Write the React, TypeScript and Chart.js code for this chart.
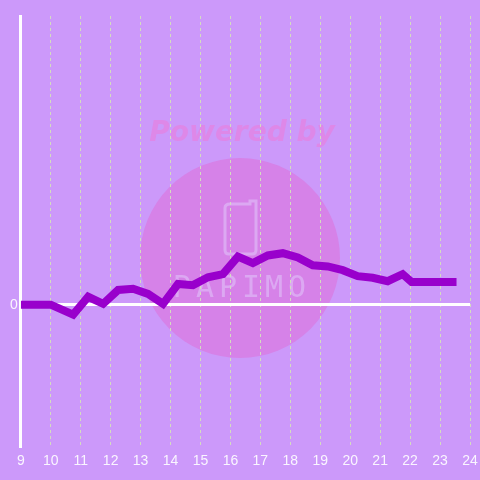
import React, { useEffect, useRef } from "react";
import { Chart, registerables } from "chart.js";

Chart.register(...registerables);

const hours = [9, 10, 10.75, 11.25, 11.75, 12.25, 12.75, 13.25, 13.75, 14.25, 14.75, 15.25, 15.75, 16.25, 16.75, 17.25, 17.75, 18.25, 18.75, 19.25, 19.75, 20.25, 20.75, 21.25, 21.75, 22.05, 23.55];
const values = [0, 0, -3.5, 2.8, 0.3, 5.2, 5.6, 3.8, 0.3, 7.3, 6.9, 9.7, 10.8, 17, 14.7, 17.4, 18.2, 16.7, 13.9, 13.5, 12.2, 10.1, 9.5, 8.3, 10.8, 8, 8];
const xMin = 9;
const xMax = 24;
const yMin = -50;
const yMax = 102;
const yTicksShown = [0];

const BG = "#cc99fa";

const watermark = {
  id: "watermark",
  beforeDraw(chart: any) {
    const ctx = chart.ctx;
    ctx.save();
    ctx.fillStyle = BG;
    ctx.fillRect(0, 0, chart.width, chart.height);
    ctx.fillStyle = "#d682e8";
    ctx.beginPath();
    ctx.arc(240, 258, 100, 0, Math.PI * 2);
    ctx.fill();
    ctx.fillStyle = "#de88e8";
    ctx.font = "italic bold 28px 'DejaVu Sans', sans-serif";
    ctx.textAlign = "center";
    ctx.textBaseline = "middle";
    ctx.fillText("Powered by", 242, 134);
    ctx.strokeStyle = "#dca8f2";
    ctx.lineWidth = 3;
    ctx.beginPath();
    ctx.moveTo(230, 204);
    ctx.lineTo(250, 204);
    ctx.lineTo(250, 201);
    ctx.lineTo(256, 201);
    ctx.lineTo(256, 250);
    ctx.quadraticCurveTo(256, 254, 252, 254);
    ctx.lineTo(229, 254);
    ctx.quadraticCurveTo(225, 254, 225, 250);
    ctx.lineTo(225, 208);
    ctx.quadraticCurveTo(225, 204, 230, 204);
    ctx.stroke();
    ctx.fillStyle = "#dca8f2";
    ctx.font = "30px 'DejaVu Sans Mono', monospace";
    (ctx as any).letterSpacing = "5px";
    ctx.fillText("PAPIMO", 242, 289);
    ctx.restore();
  },
};

export default function App() {
  const ref = useRef<HTMLCanvasElement>(null);
  useEffect(() => {
    document.body.style.margin = "0";
    const chart = new Chart(ref.current!, {
      type: "line",
      data: {
        datasets: [
          {
            data: hours.map((h, i) => ({ x: h, y: values[i] })),
            borderColor: "#9900cc",
            borderWidth: 8,
            pointRadius: 0,
            tension: 0,
            fill: false,
          },
        ],
      },
      options: {
        responsive: false,
        animation: false,
        layout: { padding: { left: 7, right: 0, top: 16, bottom: 3 } },
        plugins: { legend: { display: false }, tooltip: { enabled: false } },
        scales: {
          x: {
            type: "linear",
            min: xMin,
            max: xMax,
            afterFit: (axis: any) => {
              axis.paddingRight = 10;
            },
            ticks: {
              stepSize: 1,
              color: "rgba(255,255,255,0.9)",
              font: { family: "'Liberation Sans', Arial, sans-serif", size: 14 },
              padding: 7,
            },
            grid: {
              color: (c: any) => (c.tick && c.tick.value === xMin ? "rgba(0,0,0,0)" : "#d4dcc0"),
              lineWidth: 1,
              drawTicks: false,
            },
            border: { display: false, dash: [3, 3] },
          },
          y: {
            min: yMin,
            max: yMax,
            afterBuildTicks: (axis: any) => {
              axis.ticks = yTicksShown.map((v) => ({ value: v }));
            },
            ticks: {
              color: "rgba(255,255,255,0.9)",
              font: { family: "'Liberation Sans', Arial, sans-serif", size: 14 },
              padding: 3,
            },
            grid: {
              color: "#ffffff",
              lineWidth: 3,
              drawTicks: false,
            },
            border: { display: true, color: "#ffffff", width: 3 },
          },
        },
      },
      plugins: [watermark],
    } as any);
    return () => chart.destroy();
  }, []);
  return <canvas ref={ref} width={480} height={480} />;
}
